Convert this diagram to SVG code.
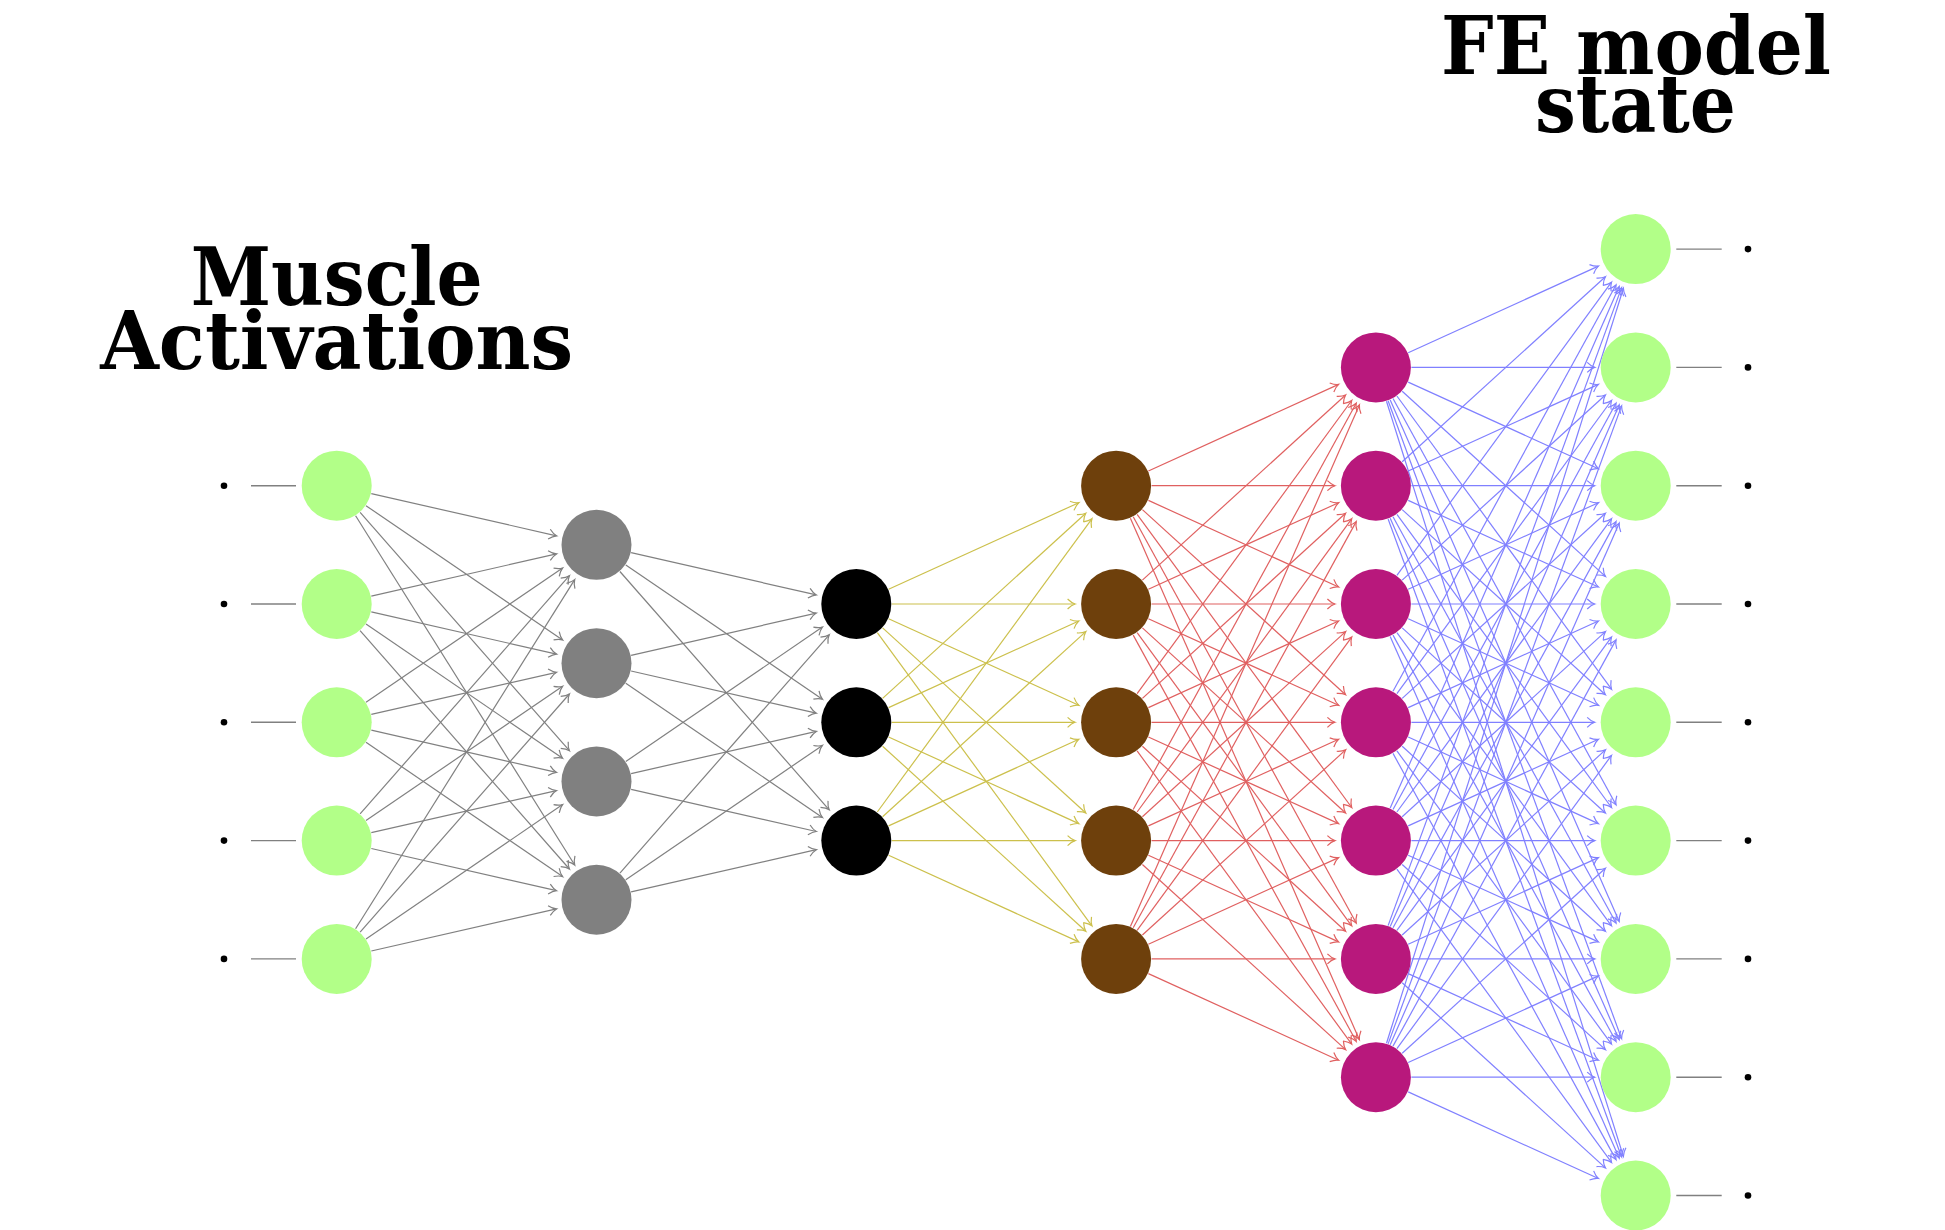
<svg xmlns="http://www.w3.org/2000/svg" width="1945" height="1230" viewBox="0 0 1945 1230">
<style>
.title{font-family:"DejaVu Serif","Liberation Serif",serif;font-weight:bold;font-size:80px;fill:#000;text-anchor:middle}
.in{fill:#b2ff88}.h1{fill:#808080}.h2{fill:#000}.h3{fill:#6e400c}.h4{fill:#b8187c}.out{fill:#b2ff88}
.stub{stroke:#808080;stroke-width:1.4}
.dot{fill:#000}
line{stroke-width:1.2;fill:none}
.eg line{stroke:#808080;marker-end:url(#ag)}
.ey line{stroke:#ccc04c;marker-end:url(#ay)}
.er line{stroke:#e06060;marker-end:url(#ar)}
.eb line{stroke:#8080ff;marker-end:url(#ab)}
</style>
<defs>
<marker id="ag" markerUnits="userSpaceOnUse" orient="auto" refX="0" refY="0" markerWidth="20" markerHeight="20" overflow="visible"><path d="M-7.5,-5 C-5,-2.5 -2,-0.6 0,0 C-2,0.6 -5,2.5 -7.5,5" fill="none" stroke="#808080" stroke-width="1.2"/></marker>
<marker id="ay" markerUnits="userSpaceOnUse" orient="auto" refX="0" refY="0" markerWidth="20" markerHeight="20" overflow="visible"><path d="M-7.5,-5 C-5,-2.5 -2,-0.6 0,0 C-2,0.6 -5,2.5 -7.5,5" fill="none" stroke="#ccc04c" stroke-width="1.2"/></marker>
<marker id="ar" markerUnits="userSpaceOnUse" orient="auto" refX="0" refY="0" markerWidth="20" markerHeight="20" overflow="visible"><path d="M-7.5,-5 C-5,-2.5 -2,-0.6 0,0 C-2,0.6 -5,2.5 -7.5,5" fill="none" stroke="#e06060" stroke-width="1.2"/></marker>
<marker id="ab" markerUnits="userSpaceOnUse" orient="auto" refX="0" refY="0" markerWidth="20" markerHeight="20" overflow="visible"><path d="M-7.5,-5 C-5,-2.5 -2,-0.6 0,0 C-2,0.6 -5,2.5 -7.5,5" fill="none" stroke="#8080ff" stroke-width="1.2"/></marker>
</defs>
<rect width="1945" height="1230" fill="#fff"/>
<g id="titles">
<text class="title" x="336.7" y="305" textLength="292" lengthAdjust="spacingAndGlyphs">Muscle</text>
<text class="title" x="336.7" y="369" textLength="473" lengthAdjust="spacingAndGlyphs">Activations</text>
<text class="title" x="1636" y="74" textLength="390" lengthAdjust="spacingAndGlyphs">FE model</text>
<text class="title" x="1635.5" y="132" textLength="201" lengthAdjust="spacingAndGlyphs">state</text>
</g>
<g id="connectors">
<g id="stubs">
<line class="stub" x1="251" y1="485.7" x2="296" y2="485.7"/>
<line class="stub" x1="251" y1="604" x2="296" y2="604"/>
<line class="stub" x1="251" y1="722.3" x2="296" y2="722.3"/>
<line class="stub" x1="251" y1="840.6" x2="296" y2="840.6"/>
<line class="stub" x1="251" y1="958.9" x2="296" y2="958.9"/>
<line class="stub" x1="1676.3" y1="249.1" x2="1721.7" y2="249.1"/>
<line class="stub" x1="1676.3" y1="367.4" x2="1721.7" y2="367.4"/>
<line class="stub" x1="1676.3" y1="485.7" x2="1721.7" y2="485.7"/>
<line class="stub" x1="1676.3" y1="604" x2="1721.7" y2="604"/>
<line class="stub" x1="1676.3" y1="722.3" x2="1721.7" y2="722.3"/>
<line class="stub" x1="1676.3" y1="840.6" x2="1721.7" y2="840.6"/>
<line class="stub" x1="1676.3" y1="958.9" x2="1721.7" y2="958.9"/>
<line class="stub" x1="1676.3" y1="1077.2" x2="1721.7" y2="1077.2"/>
<line class="stub" x1="1676.3" y1="1195.5" x2="1721.7" y2="1195.5"/>
</g>
<g id="dots">
<circle class="dot" cx="224" cy="485.7" r="3.3"/>
<circle class="dot" cx="224" cy="604" r="3.3"/>
<circle class="dot" cx="224" cy="722.3" r="3.3"/>
<circle class="dot" cx="224" cy="840.6" r="3.3"/>
<circle class="dot" cx="224" cy="958.9" r="3.3"/>
<circle class="dot" cx="1748" cy="249.1" r="3.3"/>
<circle class="dot" cx="1748" cy="367.4" r="3.3"/>
<circle class="dot" cx="1748" cy="485.7" r="3.3"/>
<circle class="dot" cx="1748" cy="604" r="3.3"/>
<circle class="dot" cx="1748" cy="722.3" r="3.3"/>
<circle class="dot" cx="1748" cy="840.6" r="3.3"/>
<circle class="dot" cx="1748" cy="958.9" r="3.3"/>
<circle class="dot" cx="1748" cy="1077.2" r="3.3"/>
<circle class="dot" cx="1748" cy="1195.5" r="3.3"/>
</g>
<g class="eg" id="e12">
<line x1="371.3" y1="493.6" x2="556.5" y2="535.8"/>
<line x1="366.0" y1="505.7" x2="562.6" y2="640.0"/>
<line x1="360.1" y1="512.4" x2="569.4" y2="750.7"/>
<line x1="355.6" y1="515.8" x2="574.7" y2="865.0"/>
<line x1="371.3" y1="596.1" x2="556.5" y2="553.9"/>
<line x1="371.3" y1="611.9" x2="556.5" y2="654.1"/>
<line x1="366.0" y1="624.0" x2="562.6" y2="758.3"/>
<line x1="360.1" y1="630.7" x2="569.4" y2="869.0"/>
<line x1="366.0" y1="702.3" x2="562.6" y2="568.0"/>
<line x1="371.3" y1="714.4" x2="556.5" y2="672.3"/>
<line x1="371.3" y1="730.2" x2="556.5" y2="772.4"/>
<line x1="366.0" y1="742.3" x2="562.6" y2="876.6"/>
<line x1="360.1" y1="813.9" x2="569.4" y2="575.7"/>
<line x1="366.0" y1="820.6" x2="562.6" y2="686.3"/>
<line x1="371.3" y1="832.7" x2="556.5" y2="790.6"/>
<line x1="371.3" y1="848.5" x2="556.5" y2="890.7"/>
<line x1="355.6" y1="928.8" x2="574.7" y2="579.6"/>
<line x1="360.1" y1="932.2" x2="569.4" y2="694.0"/>
<line x1="366.0" y1="938.9" x2="562.6" y2="804.6"/>
<line x1="371.3" y1="951.0" x2="556.5" y2="908.9"/>
</g>
<g class="eg" id="e23">
<line x1="631.1" y1="552.7" x2="816.3" y2="594.9"/>
<line x1="625.8" y1="564.9" x2="822.4" y2="699.2"/>
<line x1="619.9" y1="571.5" x2="829.2" y2="809.8"/>
<line x1="631.1" y1="655.3" x2="816.3" y2="613.1"/>
<line x1="631.1" y1="671.0" x2="816.3" y2="713.2"/>
<line x1="625.8" y1="683.2" x2="822.4" y2="817.5"/>
<line x1="625.8" y1="761.4" x2="822.4" y2="627.1"/>
<line x1="631.1" y1="773.6" x2="816.3" y2="731.4"/>
<line x1="631.1" y1="789.3" x2="816.3" y2="831.5"/>
<line x1="619.9" y1="873.1" x2="829.2" y2="634.8"/>
<line x1="625.8" y1="879.7" x2="822.4" y2="745.4"/>
<line x1="631.1" y1="891.9" x2="816.3" y2="849.7"/>
</g>
<g class="ey" id="e34">
<line x1="888.6" y1="589.3" x2="1078.8" y2="502.7"/>
<line x1="891.8" y1="604" x2="1075.1" y2="604"/>
<line x1="888.6" y1="618.7" x2="1078.8" y2="705.3"/>
<line x1="882.6" y1="627.9" x2="1085.8" y2="813.0"/>
<line x1="877.3" y1="632.6" x2="1091.9" y2="925.8"/>
<line x1="882.6" y1="698.4" x2="1085.8" y2="513.3"/>
<line x1="888.6" y1="707.6" x2="1078.8" y2="621.0"/>
<line x1="891.8" y1="722.3" x2="1075.1" y2="722.3"/>
<line x1="888.6" y1="737.0" x2="1078.8" y2="823.6"/>
<line x1="882.6" y1="746.2" x2="1085.8" y2="931.3"/>
<line x1="877.3" y1="812.0" x2="1091.9" y2="518.8"/>
<line x1="882.6" y1="816.7" x2="1085.8" y2="631.6"/>
<line x1="888.6" y1="825.9" x2="1078.8" y2="739.3"/>
<line x1="891.8" y1="840.6" x2="1075.1" y2="840.6"/>
<line x1="888.6" y1="855.3" x2="1078.8" y2="941.9"/>
</g>
<g class="er" id="e45">
<line x1="1148.4" y1="471.0" x2="1338.6" y2="384.4"/>
<line x1="1151.6" y1="485.7" x2="1334.9" y2="485.7"/>
<line x1="1148.4" y1="500.4" x2="1338.6" y2="587.0"/>
<line x1="1142.4" y1="509.6" x2="1345.6" y2="694.7"/>
<line x1="1137.1" y1="514.3" x2="1351.7" y2="807.5"/>
<line x1="1133.2" y1="516.8" x2="1356.2" y2="923.0"/>
<line x1="1130.4" y1="518.2" x2="1359.4" y2="1039.7"/>
<line x1="1142.4" y1="580.1" x2="1345.6" y2="395.0"/>
<line x1="1148.4" y1="589.3" x2="1338.6" y2="502.7"/>
<line x1="1151.6" y1="604" x2="1334.9" y2="604"/>
<line x1="1148.4" y1="618.7" x2="1338.6" y2="705.3"/>
<line x1="1142.4" y1="627.9" x2="1345.6" y2="813.0"/>
<line x1="1137.1" y1="632.6" x2="1351.7" y2="925.8"/>
<line x1="1133.2" y1="635.1" x2="1356.2" y2="1041.3"/>
<line x1="1137.1" y1="693.7" x2="1351.7" y2="400.5"/>
<line x1="1142.4" y1="698.4" x2="1345.6" y2="513.3"/>
<line x1="1148.4" y1="707.6" x2="1338.6" y2="621.0"/>
<line x1="1151.6" y1="722.3" x2="1334.9" y2="722.3"/>
<line x1="1148.4" y1="737.0" x2="1338.6" y2="823.6"/>
<line x1="1142.4" y1="746.2" x2="1345.6" y2="931.3"/>
<line x1="1137.1" y1="750.9" x2="1351.7" y2="1044.1"/>
<line x1="1133.2" y1="809.5" x2="1356.2" y2="403.3"/>
<line x1="1137.1" y1="812.0" x2="1351.7" y2="518.8"/>
<line x1="1142.4" y1="816.7" x2="1345.6" y2="631.6"/>
<line x1="1148.4" y1="825.9" x2="1338.6" y2="739.3"/>
<line x1="1151.6" y1="840.6" x2="1334.9" y2="840.6"/>
<line x1="1148.4" y1="855.3" x2="1338.6" y2="941.9"/>
<line x1="1142.4" y1="864.5" x2="1345.6" y2="1049.6"/>
<line x1="1130.4" y1="926.4" x2="1359.4" y2="404.9"/>
<line x1="1133.2" y1="927.8" x2="1356.2" y2="521.6"/>
<line x1="1137.1" y1="930.3" x2="1351.7" y2="637.1"/>
<line x1="1142.4" y1="935.0" x2="1345.6" y2="749.9"/>
<line x1="1148.4" y1="944.2" x2="1338.6" y2="857.6"/>
<line x1="1151.6" y1="958.9" x2="1334.9" y2="958.9"/>
<line x1="1148.4" y1="973.6" x2="1338.6" y2="1060.2"/>
</g>
<g class="eb" id="e56">
<line x1="1408.2" y1="352.7" x2="1598.4" y2="266.1"/>
<line x1="1411.4" y1="367.4" x2="1594.7" y2="367.4"/>
<line x1="1408.2" y1="382.1" x2="1598.4" y2="468.7"/>
<line x1="1402.2" y1="391.3" x2="1605.4" y2="576.4"/>
<line x1="1396.9" y1="396.0" x2="1611.5" y2="689.2"/>
<line x1="1393.0" y1="398.5" x2="1616.0" y2="804.7"/>
<line x1="1390.2" y1="399.9" x2="1619.2" y2="921.4"/>
<line x1="1388.1" y1="400.7" x2="1621.6" y2="1038.7"/>
<line x1="1386.5" y1="401.3" x2="1623.4" y2="1156.4"/>
<line x1="1402.2" y1="461.8" x2="1605.4" y2="276.7"/>
<line x1="1408.2" y1="471.0" x2="1598.4" y2="384.4"/>
<line x1="1411.4" y1="485.7" x2="1594.7" y2="485.7"/>
<line x1="1408.2" y1="500.4" x2="1598.4" y2="587.0"/>
<line x1="1402.2" y1="509.6" x2="1605.4" y2="694.7"/>
<line x1="1396.9" y1="514.3" x2="1611.5" y2="807.5"/>
<line x1="1393.0" y1="516.8" x2="1616.0" y2="923.0"/>
<line x1="1390.2" y1="518.2" x2="1619.2" y2="1039.7"/>
<line x1="1388.1" y1="519.0" x2="1621.6" y2="1157.0"/>
<line x1="1396.9" y1="575.4" x2="1611.5" y2="282.2"/>
<line x1="1402.2" y1="580.1" x2="1605.4" y2="395.0"/>
<line x1="1408.2" y1="589.3" x2="1598.4" y2="502.7"/>
<line x1="1411.4" y1="604" x2="1594.7" y2="604"/>
<line x1="1408.2" y1="618.7" x2="1598.4" y2="705.3"/>
<line x1="1402.2" y1="627.9" x2="1605.4" y2="813.0"/>
<line x1="1396.9" y1="632.6" x2="1611.5" y2="925.8"/>
<line x1="1393.0" y1="635.1" x2="1616.0" y2="1041.3"/>
<line x1="1390.2" y1="636.5" x2="1619.2" y2="1158.0"/>
<line x1="1393.0" y1="691.2" x2="1616.0" y2="285.0"/>
<line x1="1396.9" y1="693.7" x2="1611.5" y2="400.5"/>
<line x1="1402.2" y1="698.4" x2="1605.4" y2="513.3"/>
<line x1="1408.2" y1="707.6" x2="1598.4" y2="621.0"/>
<line x1="1411.4" y1="722.3" x2="1594.7" y2="722.3"/>
<line x1="1408.2" y1="737.0" x2="1598.4" y2="823.6"/>
<line x1="1402.2" y1="746.2" x2="1605.4" y2="931.3"/>
<line x1="1396.9" y1="750.9" x2="1611.5" y2="1044.1"/>
<line x1="1393.0" y1="753.4" x2="1616.0" y2="1159.6"/>
<line x1="1390.2" y1="808.1" x2="1619.2" y2="286.6"/>
<line x1="1393.0" y1="809.5" x2="1616.0" y2="403.3"/>
<line x1="1396.9" y1="812.0" x2="1611.5" y2="518.8"/>
<line x1="1402.2" y1="816.7" x2="1605.4" y2="631.6"/>
<line x1="1408.2" y1="825.9" x2="1598.4" y2="739.3"/>
<line x1="1411.4" y1="840.6" x2="1594.7" y2="840.6"/>
<line x1="1408.2" y1="855.3" x2="1598.4" y2="941.9"/>
<line x1="1402.2" y1="864.5" x2="1605.4" y2="1049.6"/>
<line x1="1396.9" y1="869.2" x2="1611.5" y2="1162.4"/>
<line x1="1388.1" y1="925.6" x2="1621.6" y2="287.6"/>
<line x1="1390.2" y1="926.4" x2="1619.2" y2="404.9"/>
<line x1="1393.0" y1="927.8" x2="1616.0" y2="521.6"/>
<line x1="1396.9" y1="930.3" x2="1611.5" y2="637.1"/>
<line x1="1402.2" y1="935.0" x2="1605.4" y2="749.9"/>
<line x1="1408.2" y1="944.2" x2="1598.4" y2="857.6"/>
<line x1="1411.4" y1="958.9" x2="1594.7" y2="958.9"/>
<line x1="1408.2" y1="973.6" x2="1598.4" y2="1060.2"/>
<line x1="1402.2" y1="982.8" x2="1605.4" y2="1167.9"/>
<line x1="1386.5" y1="1043.3" x2="1623.4" y2="288.2"/>
<line x1="1388.1" y1="1043.9" x2="1621.6" y2="405.9"/>
<line x1="1390.2" y1="1044.7" x2="1619.2" y2="523.2"/>
<line x1="1393.0" y1="1046.1" x2="1616.0" y2="639.9"/>
<line x1="1396.9" y1="1048.6" x2="1611.5" y2="755.4"/>
<line x1="1402.2" y1="1053.3" x2="1605.4" y2="868.2"/>
<line x1="1408.2" y1="1062.5" x2="1598.4" y2="975.9"/>
<line x1="1411.4" y1="1077.2" x2="1594.7" y2="1077.2"/>
<line x1="1408.2" y1="1091.9" x2="1598.4" y2="1178.5"/>
</g>
</g>
<g id="nodes">
<g id="in1"><circle class="in" cx="336.7" cy="485.7" r="35"/></g>
<g id="in2"><circle class="in" cx="336.7" cy="604" r="35"/></g>
<g id="in3"><circle class="in" cx="336.7" cy="722.3" r="35"/></g>
<g id="in4"><circle class="in" cx="336.7" cy="840.6" r="35"/></g>
<g id="in5"><circle class="in" cx="336.7" cy="958.9" r="35"/></g>
<g id="a1"><circle class="h1" cx="596.5" cy="544.85" r="35"/></g>
<g id="a2"><circle class="h1" cx="596.5" cy="663.15" r="35"/></g>
<g id="a3"><circle class="h1" cx="596.5" cy="781.45" r="35"/></g>
<g id="a4"><circle class="h1" cx="596.5" cy="899.75" r="35"/></g>
<g id="b1"><circle class="h2" cx="856.3" cy="604" r="35"/></g>
<g id="b2"><circle class="h2" cx="856.3" cy="722.3" r="35"/></g>
<g id="b3"><circle class="h2" cx="856.3" cy="840.6" r="35"/></g>
<g id="c1"><circle class="h3" cx="1116.1" cy="485.7" r="35"/></g>
<g id="c2"><circle class="h3" cx="1116.1" cy="604" r="35"/></g>
<g id="c3"><circle class="h3" cx="1116.1" cy="722.3" r="35"/></g>
<g id="c4"><circle class="h3" cx="1116.1" cy="840.6" r="35"/></g>
<g id="c5"><circle class="h3" cx="1116.1" cy="958.9" r="35"/></g>
<g id="d1"><circle class="h4" cx="1375.9" cy="367.4" r="35"/></g>
<g id="d2"><circle class="h4" cx="1375.9" cy="485.7" r="35"/></g>
<g id="d3"><circle class="h4" cx="1375.9" cy="604" r="35"/></g>
<g id="d4"><circle class="h4" cx="1375.9" cy="722.3" r="35"/></g>
<g id="d5"><circle class="h4" cx="1375.9" cy="840.6" r="35"/></g>
<g id="d6"><circle class="h4" cx="1375.9" cy="958.9" r="35"/></g>
<g id="d7"><circle class="h4" cx="1375.9" cy="1077.2" r="35"/></g>
<g id="out1"><circle class="out" cx="1635.7" cy="249.1" r="35"/></g>
<g id="out2"><circle class="out" cx="1635.7" cy="367.4" r="35"/></g>
<g id="out3"><circle class="out" cx="1635.7" cy="485.7" r="35"/></g>
<g id="out4"><circle class="out" cx="1635.7" cy="604" r="35"/></g>
<g id="out5"><circle class="out" cx="1635.7" cy="722.3" r="35"/></g>
<g id="out6"><circle class="out" cx="1635.7" cy="840.6" r="35"/></g>
<g id="out7"><circle class="out" cx="1635.7" cy="958.9" r="35"/></g>
<g id="out8"><circle class="out" cx="1635.7" cy="1077.2" r="35"/></g>
<g id="out9"><circle class="out" cx="1635.7" cy="1195.5" r="35"/></g>
</g>
</svg>
